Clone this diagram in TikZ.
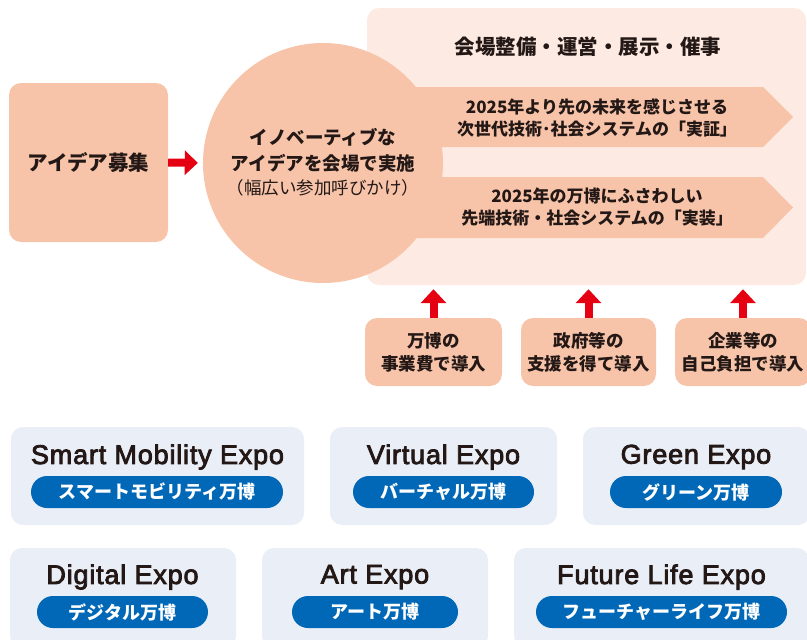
\documentclass[tikz,border=0pt]{standalone}
\usepackage{fontspec}
\setmainfont{Noto Sans CJK JP}
\newfontfamily\en{Liberation Sans}[FakeBold=3,LetterSpace=3]
\usetikzlibrary{arrows.meta}
\definecolor{peach}{HTML}{F7C4AA}
\definecolor{lightpeach}{HTML}{FDEBE3}
\definecolor{redarrow}{HTML}{E50012}
\definecolor{expobg}{HTML}{E9EEF7}
\definecolor{pillblue}{HTML}{0068B6}
\definecolor{ink}{HTML}{231815}
\tikzset{
  peachbox/.style={fill=peach, rounded corners=12pt, inner sep=0pt, align=center, text=ink},
  fundbox/.style={peachbox, minimum height=68pt, font=\bfseries\fontsize{17.5}{23}\selectfont},
  redup/.style={draw=redarrow, line width=8pt, -{Triangle[length=14pt,width=25pt]}},
  expobox/.style={fill=expobg, rounded corners=12pt, inner sep=0pt},
  expotitle/.style={text=ink, inner sep=0pt, font=\en\fontsize{27}{30}\selectfont},
  pill/.style={fill=pillblue, rounded corners=16pt, minimum height=32pt, inner sep=0pt, text=white, font=\bfseries\fontsize{18}{20}\selectfont},
  bandtext/.style={text=ink, align=center, inner sep=0pt, font=\bfseries\fontsize{17}{22}\selectfont}
}
\begin{document}
\begin{tikzpicture}[x=1pt,y=-1pt]
\useasboundingbox (0,0) rectangle (807,640);
% background panel
\node[fill=lightpeach, rounded corners=12pt, minimum width=439pt, minimum height=277pt, inner sep=0pt] (panel) at (586.5,146.5) {};
\node[text=ink, inner sep=0pt, font=\bfseries\fontsize{20.5}{24}\selectfont] (head) at (588,47) {会場整備・運営・展示・催事};
% bands
\fill[peach] (330,87) -- (763,87) -- (793,117) -- (763,147) -- (330,147) -- cycle;
\fill[peach] (330,177) -- (763,177) -- (793,207.5) -- (763,238) -- (330,238) -- cycle;
% circle
\node[circle, fill=peach, minimum size=240pt, inner sep=0pt] (circ) at (323,163) {};
\node[text=ink, align=center, inner sep=0pt, font=\bfseries\fontsize{18.5}{26}\selectfont] (circtext) at (323,150)
  {イノベーティブな\\アイデアを会場で実施};
\node[text=ink, inner sep=0pt, font=\fontsize{17.5}{20}\selectfont] (circsub) at (323,188) {（幅広い参加呼びかけ）};
\node[bandtext] (band1) at (597,118) {2025年より先の未来を感じさせる\\次世代技術･社会システムの「実証」};
\node[bandtext] (band2) at (597,207.5) {2025年の万博にふさわしい\\先端技術・社会システムの「実装」};
% left box
\node[peachbox, minimum width=159pt, minimum height=159pt, font=\bfseries\fontsize{20.5}{24}\selectfont] (idea) at (88.5,162.5) {アイデア募集};
\draw[draw=redarrow, line width=8pt, -{Triangle[length=13pt,width=24pt]}, shorten >=5pt] (idea.east) -- (circ.west);
% funding boxes
\node[fundbox, minimum width=137pt] (f1) at (433.5,352) {万博の\\事業費で導入};
\node[fundbox, minimum width=135pt] (f2) at (588.5,352) {政府等の\\支援を得て導入};
\node[fundbox, minimum width=136pt] (f3) at (743,352) {企業等の\\自己負担で導入};
\draw[redup, shorten >=4pt] (f1.north) -- (f1.north |- panel.south);
\draw[redup, shorten >=4pt] (f2.north) -- (f2.north |- panel.south);
\draw[redup, shorten >=4pt] (f3.north) -- (f3.north |- panel.south);
% expos row 1
\node[expobox, minimum width=293pt, minimum height=98pt] (eA) at (157.5,476) {};
\node[expobox, minimum width=227pt, minimum height=98pt] (eB) at (443.5,476) {};
\node[expobox, minimum width=227pt, minimum height=98pt] (eC) at (696.5,476) {};
\node[expotitle] (tA) at (157.5,457) {Smart Mobility Expo};
\node[expotitle] (tB) at (443.5,457) {Virtual Expo};
\node[expotitle] (tC) at (696,457) {Green Expo};
\node[pill, minimum width=252pt] (pA) at (157,492) {スマートモビリティ万博};
\node[pill, minimum width=181pt] (pB) at (443.5,492) {バーチャル万博};
\node[pill, minimum width=172pt] (pC) at (696,492) {グリーン万博};
% expos row 2
\node[expobox, minimum width=226pt, minimum height=100pt] (eD) at (123,598) {};
\node[expobox, minimum width=226pt, minimum height=100pt] (eE) at (375,598) {};
\node[expobox, minimum width=295pt, minimum height=100pt] (eF) at (661.5,598) {};
\node[expotitle] (tD) at (122.5,577) {Digital Expo};
\node[expotitle] (tE) at (375,577) {Art Expo};
\node[expotitle] (tF) at (661.5,577) {Future Life Expo};
\node[pill, minimum width=171pt] (pD) at (122.5,612) {デジタル万博};
\node[pill, minimum width=166pt] (pE) at (375,612) {アート万博};
\node[pill, minimum width=251pt] (pF) at (661.5,612) {フューチャーライフ万博};
\end{tikzpicture}
\end{document}
